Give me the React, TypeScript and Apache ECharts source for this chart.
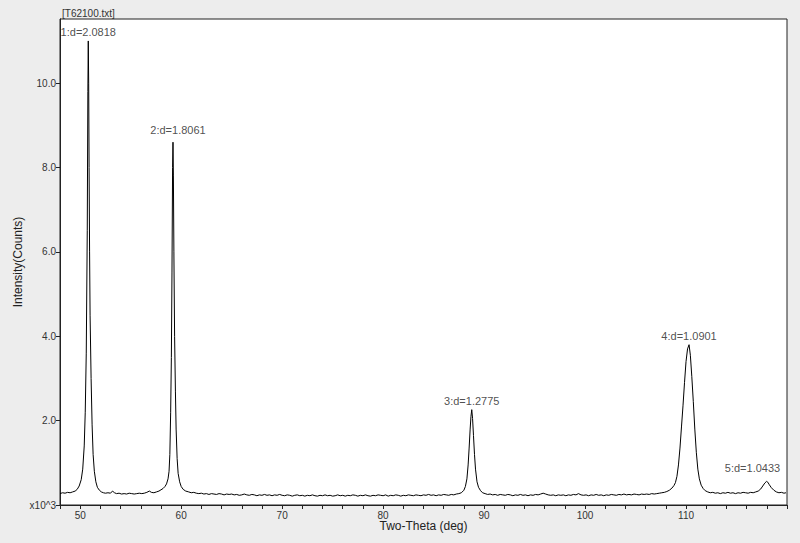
import React, { useEffect, useRef } from "react";
import * as echarts from "echarts";

const fileTitle = "[T62100.txt]";
const xAxisTitle = "Two-Theta (deg)";
const yAxisTitle = "Intensity(Counts)";
const yTickValues = [0, 2, 4, 6, 8, 10];
const xLabelValues = [50, 60, 70, 80, 90, 100, 110];

// Measured pattern: [two-theta (deg), intensity (x10^3 counts)]
const pattern: [number, number][] = [
  [48.0, 0.27], [48.25, 0.29], [48.5, 0.28], [48.75, 0.3], [49.0, 0.29], [49.25, 0.31],
  [49.5, 0.33], [49.7, 0.37], [49.9, 0.45], [50.1, 0.6], [50.25, 0.85], [50.4, 1.4],
  [50.5, 2.2], [50.6, 3.6], [50.7, 6.5], [50.76, 9.8], [50.8, 11.0], [50.84, 10.0],
  [50.88, 8.0], [50.93, 6.0], [50.98, 4.5], [51.08, 3.0], [51.18, 1.9], [51.28, 1.2],
  [51.4, 0.8], [51.55, 0.55], [51.7, 0.42], [51.9, 0.35], [52.1, 0.31], [52.3, 0.29],
  [52.5, 0.28], [52.75, 0.29], [53.0, 0.28], [53.2, 0.33], [53.4, 0.29], [53.6, 0.27],
  [53.85, 0.28], [54.1, 0.26], [54.35, 0.27], [54.6, 0.26], [54.85, 0.28], [55.1, 0.27],
  [55.35, 0.26], [55.6, 0.27], [55.85, 0.28], [56.1, 0.27], [56.35, 0.28], [56.6, 0.3],
  [56.85, 0.33], [57.05, 0.3], [57.3, 0.29], [57.55, 0.31], [57.8, 0.33], [58.0, 0.36],
  [58.2, 0.39], [58.4, 0.44], [58.55, 0.5], [58.7, 0.62], [58.8, 0.8], [58.88, 1.2],
  [58.96, 2.2], [59.03, 3.5], [59.09, 5.5], [59.15, 8.0], [59.19, 8.6], [59.23, 7.8],
  [59.28, 6.0], [59.35, 4.0], [59.43, 2.7], [59.5, 1.8], [59.6, 1.1], [59.7, 0.75],
  [59.85, 0.55], [60.0, 0.44], [60.2, 0.37], [60.45, 0.33], [60.75, 0.31], [61.0, 0.29],
  [61.25, 0.3], [61.5, 0.28], [61.75, 0.27], [62.0, 0.28], [62.25, 0.26], [62.5, 0.27],
  [62.75, 0.25], [63.0, 0.27], [63.25, 0.26], [63.5, 0.25], [63.75, 0.27], [64.0, 0.26],
  [64.25, 0.24], [64.5, 0.26], [64.75, 0.25], [65.0, 0.26], [65.25, 0.24], [65.5, 0.25],
  [65.75, 0.23], [66.0, 0.24], [66.25, 0.26], [66.5, 0.24], [66.75, 0.23], [67.0, 0.25],
  [67.25, 0.24], [67.5, 0.22], [67.75, 0.24], [68.0, 0.23], [68.25, 0.25], [68.5, 0.23],
  [68.75, 0.24], [69.0, 0.22], [69.25, 0.24], [69.5, 0.23], [69.75, 0.25], [70.0, 0.23],
  [70.25, 0.22], [70.5, 0.24], [70.75, 0.23], [71.0, 0.21], [71.25, 0.23], [71.5, 0.24],
  [71.75, 0.22], [72.0, 0.23], [72.25, 0.21], [72.5, 0.23], [72.75, 0.22], [73.0, 0.24],
  [73.25, 0.22], [73.5, 0.21], [73.75, 0.23], [74.0, 0.22], [74.25, 0.24], [74.5, 0.22],
  [74.75, 0.23], [75.0, 0.21], [75.25, 0.22], [75.5, 0.24], [75.75, 0.22], [76.0, 0.23],
  [76.25, 0.21], [76.5, 0.23], [76.75, 0.22], [77.0, 0.24], [77.25, 0.23], [77.5, 0.21],
  [77.75, 0.23], [78.0, 0.22], [78.25, 0.24], [78.5, 0.22], [78.75, 0.21], [79.0, 0.23],
  [79.25, 0.22], [79.5, 0.24], [79.75, 0.23], [80.0, 0.22], [80.25, 0.24], [80.5, 0.21],
  [80.75, 0.23], [81.0, 0.22], [81.25, 0.24], [81.5, 0.23], [81.75, 0.21], [82.0, 0.23],
  [82.25, 0.22], [82.5, 0.24], [82.75, 0.23], [83.0, 0.22], [83.25, 0.24], [83.5, 0.23],
  [83.75, 0.22], [84.0, 0.24], [84.25, 0.23], [84.5, 0.25], [84.75, 0.23], [85.0, 0.24],
  [85.25, 0.22], [85.5, 0.24], [85.75, 0.23], [86.0, 0.25], [86.25, 0.24], [86.5, 0.23],
  [86.75, 0.25], [87.0, 0.24], [87.25, 0.26], [87.5, 0.27], [87.75, 0.29], [88.0, 0.35],
  [88.15, 0.44], [88.3, 0.62], [88.42, 0.95], [88.52, 1.35], [88.62, 1.8], [88.7, 2.1],
  [88.78, 2.26], [88.86, 2.05], [88.95, 1.65], [89.05, 1.2], [89.15, 0.85], [89.3, 0.55],
  [89.45, 0.42], [89.65, 0.34], [89.85, 0.29], [90.1, 0.27], [90.35, 0.25], [90.6, 0.26],
  [90.85, 0.24], [91.1, 0.25], [91.35, 0.23], [91.6, 0.25], [91.85, 0.24], [92.1, 0.23],
  [92.35, 0.25], [92.6, 0.24], [92.85, 0.22], [93.1, 0.24], [93.35, 0.23], [93.6, 0.25],
  [93.85, 0.23], [94.1, 0.24], [94.35, 0.22], [94.6, 0.24], [94.85, 0.23], [95.1, 0.25],
  [95.35, 0.24], [95.6, 0.26], [95.85, 0.28], [96.1, 0.26], [96.35, 0.24], [96.6, 0.23],
  [96.85, 0.24], [97.1, 0.22], [97.35, 0.24], [97.6, 0.23], [97.85, 0.24], [98.1, 0.22],
  [98.35, 0.24], [98.6, 0.23], [98.85, 0.25], [99.1, 0.24], [99.35, 0.27], [99.6, 0.24],
  [99.85, 0.23], [100.1, 0.24], [100.35, 0.22], [100.6, 0.24], [100.85, 0.23], [101.1, 0.25],
  [101.35, 0.23], [101.6, 0.24], [101.85, 0.22], [102.1, 0.24], [102.35, 0.23], [102.6, 0.25],
  [102.85, 0.24], [103.1, 0.23], [103.35, 0.25], [103.6, 0.24], [103.85, 0.26], [104.1, 0.24],
  [104.35, 0.25], [104.6, 0.24], [104.85, 0.26], [105.1, 0.25], [105.35, 0.24], [105.6, 0.26],
  [105.85, 0.25], [106.1, 0.26], [106.35, 0.25], [106.6, 0.27], [106.85, 0.26], [107.1, 0.27],
  [107.35, 0.28], [107.6, 0.29], [107.85, 0.3], [108.1, 0.32], [108.35, 0.35], [108.6, 0.4],
  [108.8, 0.46], [108.95, 0.53], [109.1, 0.68], [109.25, 0.95], [109.4, 1.35], [109.55, 1.85],
  [109.7, 2.35], [109.85, 2.9], [110.0, 3.4], [110.15, 3.7], [110.3, 3.8], [110.43, 3.55],
  [110.57, 3.05], [110.72, 2.45], [110.87, 1.8], [111.02, 1.25], [111.17, 0.85], [111.32, 0.62],
  [111.5, 0.47], [111.7, 0.39], [111.9, 0.34], [112.15, 0.31], [112.4, 0.29], [112.65, 0.3],
  [112.9, 0.28], [113.15, 0.29], [113.4, 0.27], [113.65, 0.29], [113.9, 0.28], [114.15, 0.3],
  [114.4, 0.28], [114.65, 0.29], [114.9, 0.27], [115.15, 0.29], [115.4, 0.28], [115.65, 0.3],
  [115.9, 0.29], [116.15, 0.28], [116.4, 0.3], [116.65, 0.29], [116.9, 0.31], [117.15, 0.33],
  [117.4, 0.38], [117.6, 0.45], [117.8, 0.52], [117.97, 0.56], [118.1, 0.54], [118.25, 0.48],
  [118.45, 0.41], [118.7, 0.35], [118.95, 0.31], [119.2, 0.29], [119.45, 0.3], [119.7, 0.28],
  [119.9, 0.29],
];

// Peak annotations
const peakTheta = [50.8, 59.19, 88.78, 110.3, 117.97];
const peakHeight = [11.0, 8.6, 2.26, 3.8, 0.56];
const peakD = ["2.0818", "1.8061", "1.2775", "1.0901", "1.0433"];

const FONT = "'Liberation Sans', Arial, sans-serif";

export default function App() {
  const ref = useRef<HTMLDivElement>(null);

  useEffect(() => {
    if (!ref.current) return;
    const chart = echarts.init(ref.current, undefined, { renderer: "svg" });

    const peakData = peakTheta.map((t, i) => {
      const item: any = {
        name: `${i + 1}:d=${peakD[i]}`,
        value: [t, peakHeight[i]],
      };
      if (i === peakTheta.length - 1) {
        item.label = { offset: [-14, -4] };
      }
      if (i === 1) {
        item.label = { offset: [5, -3] };
      }
      return item;
    });

    chart.setOption({
      animation: false,
      backgroundColor: "#ededed",
      textStyle: { fontFamily: FONT },
      title: {
        text: fileTitle,
        left: 57,
        top: 3,
        textStyle: { fontSize: 10, fontWeight: "normal", color: "#333", fontFamily: FONT },
      },
      grid: {
        left: 60,
        right: 13,
        top: 19,
        bottom: 38,
        show: true,
        backgroundColor: "#ffffff",
        borderColor: "#222",
        borderWidth: 1,
      },
      xAxis: {
        type: "value",
        min: 48,
        max: 120,
        interval: 2,
        name: xAxisTitle,
        nameLocation: "middle",
        nameGap: 15,
        nameMoveOverlap: false,
        nameTextStyle: { fontSize: 12, color: "#222", fontFamily: FONT },
        axisLine: { show: true, onZero: false, lineStyle: { color: "#222", width: 1 } },
        axisTick: { show: true, length: 4, lineStyle: { color: "#222" } },
        axisLabel: {
          fontSize: 10,
          color: "#333",
          margin: 5,
          fontFamily: FONT,
          customValues: xLabelValues,
          formatter: (v: number) => String(v),
        },
        splitLine: { show: false },
      },
      yAxis: {
        type: "value",
        min: 0,
        max: 11.52,
        interval: 2,
        name: yAxisTitle,
        nameLocation: "middle",
        nameGap: 36,
        nameMoveOverlap: false,
        nameTextStyle: { fontSize: 12, color: "#222", fontFamily: FONT },
        axisLine: { show: true, lineStyle: { color: "#222", width: 1 } },
        axisTick: { show: true, length: 4, lineStyle: { color: "#222" }, customValues: yTickValues },
        axisLabel: {
          fontSize: 10,
          color: "#333",
          margin: 4,
          fontFamily: FONT,
          customValues: yTickValues,
          formatter: (v: number) => (v === 0 ? "x10^3" : v.toFixed(1)),
        },
        splitLine: { show: false },
      },
      series: [
        {
          type: "line",
          data: pattern,
          showSymbol: false,
          symbol: "none",
          silent: true,
          lineStyle: { color: "#000", width: 1 },
          z: 3,
        },
        {
          type: "scatter",
          data: peakData,
          symbolSize: 1,
          itemStyle: { color: "rgba(0,0,0,0)" },
          silent: true,
          label: {
            show: true,
            position: "top",
            distance: 3,
            fontSize: 11,
            color: "#222",
            fontFamily: FONT,
            formatter: (p: any) => p.name,
          },
          z: 4,
        },
      ],
    });

    return () => chart.dispose();
  }, []);

  return (
    <div
      ref={ref}
      style={{ position: "absolute", left: 0, top: 0, width: 800, height: 543, background: "#ededed" }}
    />
  );
}
